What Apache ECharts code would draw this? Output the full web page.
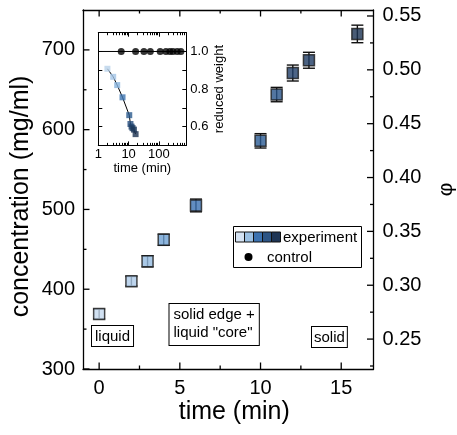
<!DOCTYPE html>
<html><head><meta charset="utf-8">
<script src="https://cdn.jsdelivr.net/npm/echarts@6/dist/echarts.min.js"></script>
<style>html,body{margin:0;padding:0;background:#fff}#c{width:457px;height:435px}</style>
</head><body><div id="c"></div>
<script>
// ---- data ----
const mainTime = [0, 2, 3, 4, 6, 10, 11, 12, 13, 16];
const mainConc = [369, 410, 435, 462, 505, 586, 644, 671, 687, 720];
const mainErr = [6, 6, 7, 7, 8, 9, 9, 10, 10, 11];
const mainColors = ['#c5d9ef', '#aecae9', '#95bbe1', '#6fa1d3', '#3b71b1', '#2b5b93', '#28548a', '#203f69', '#1e3b63', '#1b3354'];

const insetExpTime = [2, 3.1, 4.2, 6.3, 10.5, 11.5, 12.5, 13.5, 15, 17];
const insetExpWeight = [0.908, 0.865, 0.821, 0.756, 0.661, 0.614, 0.600, 0.592, 0.584, 0.560];
const insetExpColors = ['#b9d2ea', '#a2c4e6', '#86b2dc', '#3d74b0', '#2b5a8d', '#264e7e', '#22456f', '#1f3d63', '#1d385a', '#1b3251'];
const insetCtrlTime = [5.7, 17, 32, 52, 110, 170, 230, 290, 400, 530];
const insetCtrlWeight = [1, 1, 1, 1, 1, 1, 1, 1, 1, 1];
const insetCtrlFitTime = [1, 800];
const insetCtrlFitWeight = [1, 1];

const xMajorTicks = [0, 5, 10, 15];
const xMinorTicks = [2.5, 7.5, 12.5];
const concMajorTicks = [300, 400, 500, 600, 700];
const concMinorTicks = [350, 450, 550, 650];
const phiMajorTicks = [0.25, 0.30, 0.35, 0.40, 0.45, 0.50, 0.55];
const phiMinorTicks = [0.225, 0.275, 0.325, 0.375, 0.425, 0.475, 0.525];
const concPerPhi = 1350;
const concMin = 300, concMax = 750;
const timeMin = -1, timeMax = 17;

const legendColors = ['#d5e3f3', '#9cc1e4', '#3c72b0', '#2d5585', '#1e3555'];

// ---- chart ----
const FONT = 'Liberation Sans, Arial, sans-serif';
const black = '#000';
const MAJ = 6.5, MIN = 3.5;
const chart = echarts.init(document.getElementById('c'));

// tick list for the main frame: [side, value, length]; side 0=bottom 1=top 2=left 3=right
const mainTicks = [];
xMajorTicks.forEach(v => { mainTicks.push([0, v, MAJ]); mainTicks.push([1, v, MAJ]); });
xMinorTicks.forEach(v => { mainTicks.push([0, v, MIN]); mainTicks.push([1, v, MIN]); });
concMajorTicks.forEach(v => mainTicks.push([2, v, MAJ]));
concMinorTicks.forEach(v => mainTicks.push([2, v, MIN]));
phiMajorTicks.forEach(v => mainTicks.push([3, v * concPerPhi, MAJ]));
phiMinorTicks.forEach(v => mainTicks.push([3, v * concPerPhi, MIN]));

const frameLine = {show: true, onZero: false, lineStyle: {color: black, width: 1.3}};

const option = {
  animation: false,
  backgroundColor: '#fff',
  textStyle: {fontFamily: FONT},
  grid: [
    {left: 83, top: 10, width: 290.5, height: 359, outerBoundsMode: 'none'},
    {left: 98.3, top: 32.7, width: 88, height: 112.7, show: true, backgroundColor: '#fff', borderWidth: 0, outerBoundsMode: 'none'}
  ],
  xAxis: [
    {type: 'value', gridIndex: 0, position: 'bottom', min: timeMin, max: timeMax,
      axisLine: frameLine, axisTick: {show: false}, splitLine: {show: false},
      axisLabel: {show: true, customValues: xMajorTicks, fontSize: 20, color: black, margin: 9, fontFamily: FONT},
      name: 'time (min)', nameLocation: 'middle', nameGap: 31, nameMoveOverlap: false,
      nameTextStyle: {fontSize: 25, color: black, fontFamily: FONT, padding: [0, 0, 0, 12]}},
    {type: 'value', gridIndex: 0, position: 'top', min: timeMin, max: timeMax,
      axisLine: frameLine, axisTick: {show: false}, axisLabel: {show: false}, splitLine: {show: false}},
    // inset
    {type: 'log', gridIndex: 1, position: 'bottom', min: 1, max: 800, logBase: 10,
      axisLine: {show: true, onZero: false, lineStyle: {color: black, width: 1}},
      axisTick: {show: true, inside: true, length: 4, lineStyle: {color: black, width: 1}},
      minorTick: {show: true, splitNumber: 9, length: 2.5, lineStyle: {color: black, width: 1}},
      axisLabel: {show: true, fontSize: 13, color: black, margin: 3, showMaxLabel: false, fontFamily: FONT,
        formatter: v => String(Math.round(v))},
      splitLine: {show: false}, minorSplitLine: {show: false},
      name: 'time (min)', nameLocation: 'middle', nameGap: 17, nameMoveOverlap: false,
      nameTextStyle: {fontSize: 13, color: black, fontFamily: FONT}},
    {type: 'log', gridIndex: 1, position: 'top', min: 1, max: 800, logBase: 10,
      axisLine: {show: true, onZero: false, lineStyle: {color: black, width: 1}},
      axisTick: {show: true, inside: true, length: 4, lineStyle: {color: black, width: 1}},
      minorTick: {show: true, splitNumber: 9, length: 2.5, lineStyle: {color: black, width: 1}},
      axisLabel: {show: false}, splitLine: {show: false}}
  ],
  yAxis: [
    {type: 'value', gridIndex: 0, position: 'left', min: concMin, max: concMax,
      axisLine: frameLine, axisTick: {show: false}, splitLine: {show: false},
      axisLabel: {show: true, customValues: concMajorTicks, fontSize: 20, color: black, margin: 8, fontFamily: FONT},
      name: 'concentration (mg/ml)', nameLocation: 'middle', nameRotate: 90, nameGap: 49, nameMoveOverlap: false,
      nameTextStyle: {fontSize: 25, color: black, fontFamily: FONT, padding: [0, 14, 0, 0]}},
    {type: 'value', gridIndex: 0, position: 'right', min: concMin / concPerPhi, max: concMax / concPerPhi,
      axisLine: frameLine, axisTick: {show: false}, splitLine: {show: false},
      axisLabel: {show: true, customValues: phiMajorTicks, fontSize: 20, color: black, margin: 9, fontFamily: FONT,
        formatter: v => v.toFixed(2)},
      name: 'φ', nameLocation: 'middle', nameRotate: 90, nameGap: 62, nameMoveOverlap: false,
      nameTextStyle: {fontSize: 21, color: black, fontFamily: FONT}},
    // inset
    {type: 'value', gridIndex: 1, position: 'right', min: 0.5, max: 1.1, interval: 0.1,
      axisLine: {show: true, onZero: false, lineStyle: {color: black, width: 1}},
      axisTick: {show: true, inside: true, length: 4, lineStyle: {color: black, width: 1}},
      axisLabel: {show: true, fontSize: 13, color: black, margin: 4, fontFamily: FONT,
        formatter: v => { const k = Math.round(v * 10); return (k === 6 || k === 8 || k === 10) ? (k / 10).toFixed(1) : ''; }},
      splitLine: {show: false},
      name: 'reduced weight', nameLocation: 'middle', nameRotate: 90, nameGap: 27, nameMoveOverlap: false,
      nameTextStyle: {fontSize: 13, color: black, fontFamily: FONT}},
    {type: 'value', gridIndex: 1, position: 'left', min: 0.5, max: 1.1, interval: 0.1,
      axisLine: {show: true, onZero: false, lineStyle: {color: black, width: 1}},
      axisTick: {show: true, inside: true, length: 4, lineStyle: {color: black, width: 1}},
      axisLabel: {show: false}, splitLine: {show: false}}
  ],
  series: [
    {
      // frame ticks (inside) of the main plot, placed through the axes' scales
      type: 'custom', xAxisIndex: 0, yAxisIndex: 0, z: 5, silent: true,
      data: mainTicks,
      encode: {x: 1, y: 1},
      renderItem: function (params, api) {
        const side = api.value(0), v = api.value(1), len = api.value(2);
        let p, q;
        if (side === 0) { p = api.coord([v, concMin]); q = [p[0], p[1] - len]; }
        else if (side === 1) { p = api.coord([v, concMax]); q = [p[0], p[1] + len]; }
        else if (side === 2) { p = api.coord([timeMin, v]); q = [p[0] + len, p[1]]; }
        else { p = api.coord([timeMax, v]); q = [p[0] - len, p[1]]; }
        return {type: 'line', shape: {x1: p[0], y1: p[1], x2: q[0], y2: q[1]}, style: {stroke: black, lineWidth: 1.3}};
      }
    },
    {
      type: 'custom', xAxisIndex: 0, yAxisIndex: 0, z: 2,
      data: mainTime.map((t, i) => [t, mainConc[i], mainErr[i]]),
      renderItem: function (params, api) {
        const x = api.value(0), y = api.value(1), e = api.value(2);
        const top = api.coord([x, y + e]);
        const bot = api.coord([x, y - e]);
        const hw = 6;
        const st = {stroke: '#111', lineWidth: 1.4};
        return {type: 'group', children: [
          {type: 'line', shape: {x1: top[0], y1: top[1], x2: bot[0], y2: bot[1]}, style: st},
          {type: 'line', shape: {x1: top[0] - hw, y1: top[1], x2: top[0] + hw, y2: top[1]}, style: st},
          {type: 'line', shape: {x1: bot[0] - hw, y1: bot[1], x2: bot[0] + hw, y2: bot[1]}, style: st}
        ]};
      }
    },
    {
      type: 'scatter', xAxisIndex: 0, yAxisIndex: 0, z: 3,
      symbol: 'rect', symbolSize: 11,
      data: mainTime.map((t, i) => ({value: [t, mainConc[i]], itemStyle: {color: mainColors[i]}})),
      itemStyle: {borderColor: '#1a1a1a', borderWidth: 1.5}
    },
    {
      type: 'line', xAxisIndex: 2, yAxisIndex: 2, z: 3,
      data: insetCtrlFitTime.map((t, i) => [t, insetCtrlFitWeight[i]]),
      showSymbol: false, lineStyle: {color: black, width: 1}
    },
    {
      type: 'scatter', xAxisIndex: 2, yAxisIndex: 2, z: 4,
      symbol: 'circle', symbolSize: 7,
      data: insetCtrlTime.map((t, i) => [t, insetCtrlWeight[i]]),
      itemStyle: {color: black}
    },
    {
      type: 'line', xAxisIndex: 2, yAxisIndex: 2, z: 3,
      data: insetExpTime.map((t, i) => [t, insetExpWeight[i]]),
      showSymbol: false, lineStyle: {color: black, width: 1}
    },
    {
      type: 'scatter', xAxisIndex: 2, yAxisIndex: 2, z: 4,
      symbol: 'rect', symbolSize: 6,
      data: insetExpTime.map((t, i) => ({value: [t, insetExpWeight[i]], itemStyle: {color: insetExpColors[i]}}))
    }
  ],
  graphic: [
    // legend
    {type: 'rect', shape: {x: 233.5, y: 226.5, width: 128, height: 41}, style: {fill: '#fff', stroke: black, lineWidth: 1}, z: 10},
    ...legendColors.map((c, i) => ({type: 'rect', shape: {x: 235.5 + i * 9, y: 232, width: 9, height: 10},
      style: {fill: c, stroke: '#111', lineWidth: 1}, z: 11})),
    {type: 'text', x: 283, y: 238, style: {text: 'experiment', fill: black, font: '15px ' + FONT, textVerticalAlign: 'middle'}, z: 11},
    {type: 'circle', shape: {cx: 248.5, cy: 257, r: 4}, style: {fill: black}, z: 11},
    {type: 'text', x: 267, y: 258, style: {text: 'control', fill: black, font: '15px ' + FONT, textVerticalAlign: 'middle'}, z: 11},
    // annotations
    {type: 'text', x: 92, y: 326, z: 10, style: {text: 'liquid', fill: black, font: '15px ' + FONT,
      backgroundColor: '#fff', borderColor: black, borderWidth: 1, padding: [3, 3, 2, 3]}},
    {type: 'text', x: 169.5, y: 304, z: 10, style: {text: 'solid edge +\nliquid "core"', fill: black, font: '15px ' + FONT,
      lineHeight: 18, backgroundColor: '#fff', borderColor: black, borderWidth: 1, padding: [2, 4, 3, 4]}},
    {type: 'text', x: 312, y: 327, z: 10, style: {text: 'solid', fill: black, font: '15px ' + FONT,
      backgroundColor: '#fff', borderColor: black, borderWidth: 1, padding: [3, 2, 2, 2]}}
  ]
};
chart.setOption(option);
</script>
</body></html>
